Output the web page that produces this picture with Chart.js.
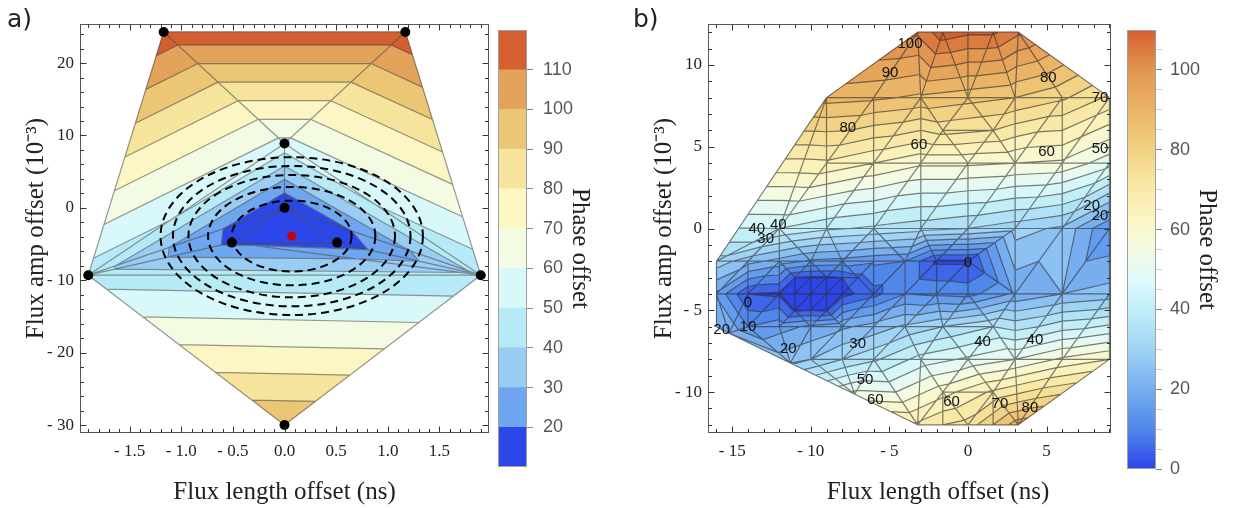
<!DOCTYPE html>
<html>
<head>
<meta charset="utf-8">
<script src="https://cdn.jsdelivr.net/npm/chart.js@4.4.1/dist/chart.umd.min.js"></script>
<style>
  body { margin: 0; background: #fff; width: 1233px; height: 508px; position: relative; overflow: hidden; }
  canvas { position: absolute; top: 0; }
  .tag { position: absolute; font: 25px 'DejaVu Sans'; line-height: 30px; color: #222; z-index: 2; }
</style>
</head>
<body>
<canvas id="chartA" width="495" height="508" style="left:0"></canvas>
<canvas id="barA" width="120" height="508" style="left:498px"></canvas>
<canvas id="chartB" width="495" height="508" style="left:620px"></canvas>
<canvas id="barB" width="106" height="508" style="left:1127px"></canvas>
<div class="tag" style="left:7px;top:4px">a)</div>
<div class="tag" style="left:633px;top:4px">b)</div>
<script>
// ---- panel a : measured points (x = length offset, y = amp offset, z = phase offset) ----
const aX = [-1.17, 1.17, 0, 0, -0.51, 0.51, -1.9, 1.9, 0];
const aY = [24.3, 24.3, 8.9, 0, -4.8, -4.8, -9.3, -9.3, -30];
const aZ = [117, 117, 57, 8.6, 18, 14, 45, 42, 99];
const aTris = [[0,1,2],[0,2,6],[1,2,7],[2,3,6],[2,3,7],[3,4,6],[3,5,7],[3,4,5],[4,5,7],[4,6,7],[6,7,8]];
const aBest = [0.07, -3.9];
const aEllRx = [0.58, 0.81, 1.0, 1.15, 1.27];
const aEllRy = [4.9, 6.8, 8.45, 9.7, 10.9];
const aLevels = [20, 30, 40, 50, 60, 70, 80, 90, 100, 110];
const aBandColors = ['#2b47e9','#6ea6ef','#9acdf4','#b7eaf7','#d8f8fa','#f3fbe3','#fcf6c4','#f6e49c','#ebc674','#e4a35a','#d65f31'];
const aBarEdges = [10, 20, 30, 40, 50, 60, 70, 80, 90, 100, 110, 120];
const aBarTicks = [20, 30, 40, 50, 60, 70, 80, 90, 100, 110];
const aXTicks = [-1.5, -1, -0.5, 0, 0.5, 1, 1.5];
const aYTicks = [-30, -20, -10, 0, 10, 20];

// ---- panel b : measured points ----
const bX = [
  -3.2, -1.6, 0, 1.6, 3.2,                 // y = 12
  -9, -6, -3, 0, 3, 6, 9,                  // y = 8
  -1.6, 1.6,                               // y = 6
  -9, -6, -3, 0, 3, 6, 9,                  // y = 4
  -12, -9, -6, -3, 0, 3, 6, 9,             // y = 0
  -16, -14, -12, -10, -8, -6, -4, -2, 0,   // y = -2
  -11, -10, -9, -8, -7,                    // y = -3
  -16, -14, -12, -11, -10, -9, -8, -6, -4, -2, 0, 3, 6, 9,  // y = -4
  -11, -10, -9,                            // y = -5
  -16, -14, -12, -10, -8, -6, -4, -1.6, 1.6, // y = -6
  -15.2, -11.3, -7.2,                      // lower left edge
  -10, -8, -6, -3, 0, 3, 6, 9,             // y = -8
  -1.6, 1.6,                               // y = -10
  -3.2, -1.6, 0, 1.6, 3.2                  // y = -12
];
const bY = [
  12, 12, 12, 12, 12,
  8, 8, 8, 8, 8, 8, 8,
  6, 6,
  4, 4, 4, 4, 4, 4, 4,
  0, 0, 0, 0, 0, 0, 0, 0,
  -2, -2, -2, -2, -2, -2, -2, -2, -2,
  -3, -3, -3, -3, -3,
  -4, -4, -4, -4, -4, -4, -4, -4, -4, -4, -4, -4, -4, -4,
  -5, -5, -5,
  -6, -6, -6, -6, -6, -6, -6, -6, -6,
  -6.4, -8.22, -10.13,
  -8, -8, -8, -8, -8, -8, -8, -8,
  -10, -10,
  -12, -12, -12, -12, -12
];
const bZ = [
  101, 108, 106, 106, 101,
  87, 86, 84, 82, 80, 76, 69,
  72, 70,
  64, 60, 56, 56, 55, 54, 47,
  40, 36, 34, 32, 30, 27, 24, 10,
  28, 22, 18, 14, 13, 11, 10, -1, -1,
  0, -1, -1, 0, 3,
  14, 0, -1, -2, -3, -2, -2, 3, 10, 9, 8, 16, 20, 22,
  -1, 0, -1,
  20, 10, 13, 16, 19, 22, 26, 30, 35,
  20, 24, 52,
  25, 30, 34, 42, 46, 50, 56, 60,
  58, 66,
  66, 70, 72, 80, 88
];
const bLevels = [0, 5, 10, 15, 20, 25, 30, 35, 40, 45, 50, 55, 60, 65, 70, 75, 80, 85, 90, 95, 100, 105];
const bStops = [0, 10, 20, 30, 40, 47, 55, 62, 72, 82, 90, 100, 110];
const bStopColors = ['#2b45e8','#5087eb','#76aef0','#9fd4f5','#c2eef8','#def9fa','#f3fbe3','#fcf6c6','#f8e6a2','#f0cd7c','#eab466','#e2964f','#d65f31'];
const bBarTicks = [0, 5, 10, 15, 20, 25, 30, 35, 40, 45, 50, 55, 60, 65, 70, 75, 80, 85, 90, 95, 100, 105];
const bXTicks = [-15, -10, -5, 0, 5];
const bYTicks = [-10, -5, 0, 5, 10];
// contour labels
const bLabX = [-3.69, -4.96, 5.11, 8.4, -7.65, -3.12, 5.0, 8.4, 7.87, 8.4, -13.44, -12.07, -12.87, 0, -14, -14, -15.67, -11.43, -7.02, 0.93, 4.26, -6.55, -5.9, -1.04, 2.03, 3.94];
const bLabY = [11.28, 9.5, 9.2, 7.96, 6.18, 5.12, 4.69, 4.85, 1.38, 0.77, 0, 0.22, -0.65, -2.08, -4.57, -6.02, -6.2, -7.34, -7.08, -6.94, -6.82, -9.27, -10.5, -10.6, -10.7, -10.96];
const bLabT = ['100','90','80','70','80','60','60','50','20','20','40','40','30','0','0','10','20','20','30','40','40','50','60','60','70','80'];

// ---- helpers ----
function hexRgb(h) { const n = parseInt(h.slice(1), 16); return [n >> 16 & 255, n >> 8 & 255, n & 255]; }
function cmapB(v) {
  v = Math.max(bStops[0], Math.min(bStops[bStops.length - 1], v));
  let i = 1;
  while (i < bStops.length - 1 && v > bStops[i]) i++;
  const t = (v - bStops[i - 1]) / (bStops[i] - bStops[i - 1]);
  const a = hexRgb(bStopColors[i - 1]), b = hexRgb(bStopColors[i]);
  return 'rgb(' + a.map((c, k) => Math.round(c + (b[k] - c) * t)).join(',') + ')';
}
const bBandColors = [cmapB(0)].concat(bLevels.map((L, i) => cmapB(i + 1 < bLevels.length ? bLevels[i + 1] : 110)));

// Bowyer-Watson triangulation
function delaunay(xs, ys) {
  const n = xs.length;
  const pts = xs.map((x, i) => [x + i * 1e-7, ys[i] + i * 1.3e-7]);
  const minX = Math.min(...xs), maxX = Math.max(...xs), minY = Math.min(...ys), maxY = Math.max(...ys);
  const d = Math.max(maxX - minX, maxY - minY) * 50, mx = (minX + maxX) / 2, my = (minY + maxY) / 2;
  pts.push([mx - d, my - d], [mx + d, my - d], [mx, my + d]);
  const circ = v => {
    const [ax, ay] = pts[v[0]], [bx, by] = pts[v[1]], [cx, cy] = pts[v[2]];
    const D = 2 * (ax * (by - cy) + bx * (cy - ay) + cx * (ay - by));
    const ux = ((ax * ax + ay * ay) * (by - cy) + (bx * bx + by * by) * (cy - ay) + (cx * cx + cy * cy) * (ay - by)) / D;
    const uy = ((ax * ax + ay * ay) * (cx - bx) + (bx * bx + by * by) * (ax - cx) + (cx * cx + cy * cy) * (bx - ax)) / D;
    return { v, ux, uy, r2: (ax - ux) ** 2 + (ay - uy) ** 2 };
  };
  let tris = [circ([n, n + 1, n + 2])];
  for (let i = 0; i < n; i++) {
    const [px, py] = pts[i];
    const keep = [], edges = new Map();
    for (const t of tris) {
      if ((px - t.ux) ** 2 + (py - t.uy) ** 2 < t.r2) {
        const v = t.v;
        for (const [a, b] of [[v[0], v[1]], [v[1], v[2]], [v[2], v[0]]]) {
          const k = a < b ? a + ',' + b : b + ',' + a;
          if (edges.has(k)) edges.delete(k); else edges.set(k, [a, b]);
        }
      } else keep.push(t);
    }
    tris = keep;
    for (const [a, b] of edges.values()) tris.push(circ([a, b, i]));
  }
  return tris.map(t => t.v).filter(v => v.every(k => k < n)).filter(v => {
    const [a, b, c] = v.map(k => pts[k]);
    return Math.abs((b[0] - a[0]) * (c[1] - a[1]) - (c[0] - a[0]) * (b[1] - a[1])) > 1e-6;
  });
}
const bTris = delaunay(bX, bY);

function clipPoly(poly, level, above) {
  const out = [];
  for (let i = 0; i < poly.length; i++) {
    const a = poly[i], b = poly[(i + 1) % poly.length];
    const ina = above ? a.v >= level : a.v <= level;
    const inb = above ? b.v >= level : b.v <= level;
    if (ina) out.push(a);
    if (ina !== inb) {
      const t = (level - a.v) / (b.v - a.v);
      out.push({ x: a.x + t * (b.x - a.x), y: a.y + t * (b.y - a.y), v: level });
    }
  }
  return out;
}

// filled contours on a triangulated mesh, drawn through the chart scales
const meshPlugin = {
  id: 'mesh',
  beforeDatasetsDraw(chart, args, o) {
    const { ctx, chartArea: ca, scales: { x, y } } = chart;
    const P = o.xs.map((v, i) => ({ x: x.getPixelForValue(v), y: y.getPixelForValue(o.ys[i]), v: o.zs[i] }));
    const lv = o.levels;
    ctx.save();
    ctx.beginPath(); ctx.rect(ca.left, ca.top, ca.width, ca.height); ctx.clip();
    ctx.lineJoin = 'round';
    for (const t of o.tris) {
      const tri = t.map(k => P[k]);
      for (let b = 0; b <= lv.length; b++) {
        let poly = tri;
        if (b > 0) poly = clipPoly(poly, lv[b - 1], true);
        if (b < lv.length && poly.length) poly = clipPoly(poly, lv[b], false);
        if (poly.length < 3) continue;
        ctx.beginPath();
        poly.forEach((p, i) => i ? ctx.lineTo(p.x, p.y) : ctx.moveTo(p.x, p.y));
        ctx.closePath();
        ctx.fillStyle = o.colors[b];
        ctx.fill();
        ctx.strokeStyle = o.colors[b]; ctx.lineWidth = 0.6; ctx.stroke();
      }
    }
    // contour lines + mesh edges
    ctx.beginPath();
    const seen = new Set();
    for (const t of o.tris) {
      for (const L of lv) {
        const pts = [];
        for (let e = 0; e < 3; e++) {
          const a = P[t[e]], c = P[t[(e + 1) % 3]];
          if ((a.v < L) !== (c.v < L)) {
            const s = (L - a.v) / (c.v - a.v);
            pts.push([a.x + s * (c.x - a.x), a.y + s * (c.y - a.y)]);
          }
        }
        if (pts.length === 2) { ctx.moveTo(pts[0][0], pts[0][1]); ctx.lineTo(pts[1][0], pts[1][1]); }
      }
      for (let e = 0; e < 3; e++) {
        const i = t[e], j = t[(e + 1) % 3], k = i < j ? i + '-' + j : j + '-' + i;
        if (seen.has(k)) continue;
        seen.add(k);
        ctx.moveTo(P[i].x, P[i].y); ctx.lineTo(P[j].x, P[j].y);
      }
    }
    ctx.strokeStyle = o.lineColor; ctx.lineWidth = o.lineWidth; ctx.stroke();
    // dashed ellipses
    if (o.ell) {
      const cx = x.getPixelForValue(o.ell.cx), cy = y.getPixelForValue(o.ell.cy);
      ctx.setLineDash([8, 5]); ctx.lineWidth = 2; ctx.strokeStyle = '#000';
      o.ell.rx.forEach((r, i) => {
        const rx = Math.abs(x.getPixelForValue(o.ell.cx + r) - cx);
        const ry = Math.abs(y.getPixelForValue(o.ell.cy + o.ell.ry[i]) - cy);
        ctx.beginPath(); ctx.ellipse(cx, cy, rx, ry, 0, 0, Math.PI * 2); ctx.stroke();
      });
      ctx.setLineDash([]);
    }
    ctx.restore();
  },
  afterDatasetsDraw(chart, args, o) {
    const { ctx, chartArea: ca, scales: { x, y } } = chart;
    ctx.save();
    if (o.labels) {
      ctx.font = '15px "Liberation Sans"'; ctx.fillStyle = '#111';
      ctx.textAlign = 'center'; ctx.textBaseline = 'middle';
      o.labels.x.forEach((v, i) => ctx.fillText(o.labels.t[i], x.getPixelForValue(v), y.getPixelForValue(o.labels.y[i])));
    }
    // frame with inward ticks on all sides
    const L = Math.round(ca.left) + 0.5, R = Math.round(ca.right) - 0.5, T = Math.round(ca.top) + 0.5, B = Math.round(ca.bottom) - 0.5;
    ctx.strokeStyle = '#555'; ctx.lineWidth = 1;
    ctx.strokeRect(L, T, R - L, B - T);
    ctx.strokeStyle = '#333';
    ctx.beginPath();
    const tk = o.ticks;
    const xTick = (v, len) => { const px = Math.round(x.getPixelForValue(v)) + 0.5; ctx.moveTo(px, B); ctx.lineTo(px, B - len); ctx.moveTo(px, T); ctx.lineTo(px, T + len); };
    const yTick = (v, len) => { const py = Math.round(y.getPixelForValue(v)) + 0.5; ctx.moveTo(L, py); ctx.lineTo(L + len, py); ctx.moveTo(R, py); ctx.lineTo(R - len, py); };
    for (let v = Math.ceil(x.min / tk.xMinor) * tk.xMinor; v <= x.max; v += tk.xMinor) {
      const major = Math.abs(v / tk.xMajor - Math.round(v / tk.xMajor)) < 1e-6;
      xTick(v, major ? 6 : 3.5);
    }
    for (let v = Math.ceil(y.min / tk.yMinor) * tk.yMinor; v <= y.max; v += tk.yMinor) {
      const major = Math.abs(v / tk.yMajor - Math.round(v / tk.yMajor)) < 1e-6;
      yTick(v, major ? 6 : 3.5);
    }
    ctx.stroke();
    if (o.xTitle) {
      ctx.font = '25px "Liberation Serif"'; ctx.fillStyle = '#222';
      ctx.textAlign = 'center'; ctx.textBaseline = 'middle';
      ctx.fillText(o.xTitle.text, o.xTitle.cx, o.xTitle.cy);
    }
    ctx.restore();
  }
};

const tickFont = { family: 'Liberation Serif', size: 17 };
const titleFont = { family: 'Liberation Serif', size: 25 };
const signed = (v, d) => (v < 0 ? '- ' : '') + Math.abs(v).toFixed(d);

function axis(min, max, ticks, digits, fit, horizontal, title, titlePad) {
  return {
    type: 'linear', min, max,
    afterBuildTicks: s => { s.ticks = ticks.map(v => ({ value: v })); },
    afterFit: s => { if (horizontal) s.height = fit; else s.width = fit; },
    grid: { display: false, drawTicks: false },
    border: { display: false },
    ticks: { font: tickFont, color: '#222', padding: horizontal ? 8 : 6, autoSkip: false, maxRotation: 0, callback: v => signed(v, digits) },
    title: { display: !!title, text: title, font: titleFont, color: '#222', padding: titlePad }
  };
}

new Chart(document.getElementById('chartA'), {
  type: 'scatter',
  data: {
    datasets: [
      { data: aX.map((x, i) => ({ x, y: aY[i] })), pointRadius: 5, backgroundColor: '#000', borderWidth: 0 },
      { data: [{ x: aBest[0], y: aBest[1] }], pointRadius: 4.5, backgroundColor: '#c8000a', borderWidth: 0 }
    ]
  },
  options: {
    responsive: false, animation: false, events: [],
    layout: { padding: { top: 24, right: 6, left: 0, bottom: 0 } },
    plugins: {
      legend: { display: false }, tooltip: { enabled: false },
      mesh: {
        xs: aX, ys: aY, zs: aZ, tris: aTris, levels: aLevels, colors: aBandColors,
        lineColor: 'rgba(70,70,70,0.55)', lineWidth: 1.2,
        ell: { cx: aBest[0], cy: aBest[1], rx: aEllRx, ry: aEllRy },
        ticks: { xMajor: 0.5, xMinor: 0.1, yMajor: 10, yMinor: 2 }
      }
    },
    scales: {
      x: axis(-1.98, 1.98, aXTicks, 1, 75, true, 'Flux length offset (ns)', { bottom: 1 }),
      y: axis(-31.1, 25.4, aYTicks, 0, 80, false, 'Flux amp offset (10⁻³)', { top: 21 })
    }
  },
  plugins: [meshPlugin]
});

new Chart(document.getElementById('chartB'), {
  type: 'scatter',
  data: { datasets: [{ data: bX.map((x, i) => ({ x, y: bY[i] })), pointRadius: 0 }] },
  options: {
    responsive: false, animation: false, events: [],
    layout: { padding: { top: 24, right: 4, left: 0, bottom: 0 } },
    plugins: {
      legend: { display: false }, tooltip: { enabled: false },
      mesh: {
        xs: bX, ys: bY, zs: bZ, tris: bTris, levels: bLevels, colors: bBandColors,
        lineColor: 'rgba(40,40,40,0.6)', lineWidth: 1.2,
        labels: { x: bLabX, y: bLabY, t: bLabT },
        ticks: { xMajor: 5, xMinor: 1, yMajor: 5, yMinor: 1 },
        xTitle: { text: 'Flux length offset (ns)', cx: 318, cy: 492 }
      }
    },
    scales: {
      x: axis(-16.54, 9.1, bXTicks, 0, 75, true, '', {}),
      y: axis(-12.5, 12.5, bYTicks, 0, 88, false, 'Flux amp offset (10⁻³)', { top: 29 })
    }
  },
  plugins: [meshPlugin]
});

const barFrame = {
  id: 'barFrame',
  afterDatasetsDraw(chart) {
    const { ctx, chartArea: ca } = chart;
    ctx.save(); ctx.strokeStyle = '#a0a0a0'; ctx.lineWidth = 1;
    ctx.strokeRect(Math.round(ca.left) + 0.5, Math.round(ca.top) + 0.5, Math.round(ca.width) - 1, Math.round(ca.height) - 1);
    ctx.restore();
  }
};

function barScale(min, max, ticks, width, pad, titlePad, major) {
  return {
    x: { display: false },
    y: {
      position: 'right', min, max,
      afterBuildTicks: s => { s.ticks = ticks.map(v => ({ value: v })); },
      afterFit: s => { s.width = width; },
      grid: { drawOnChartArea: false, tickLength: 6, tickColor: c => (c.tick && c.tick.value % major === 0) ? '#888' : '#d0d0d0' },
      border: { display: false },
      ticks: { padding: pad, color: '#555', autoSkip: false, font: { family: 'Liberation Sans', size: 18 }, callback: v => v % major === 0 ? String(v) : '' },
      title: { display: true, text: 'Phase offset', font: titleFont, color: '#222', padding: { top: titlePad } }
    }
  };
}

new Chart(document.getElementById('barA'), {
  type: 'bar',
  data: {
    labels: [''],
    datasets: aBandColors.map((c, i) => ({ data: [[aBarEdges[i], aBarEdges[i + 1]]], backgroundColor: c, borderWidth: 0, grouped: false, barPercentage: 1, categoryPercentage: 1 }))
  },
  options: {
    responsive: false, animation: false, events: [],
    layout: { padding: { top: 30, bottom: 41, left: 0, right: 0 } },
    plugins: { legend: { display: false }, tooltip: { enabled: false } },
    scales: barScale(10, 120, aBarTicks, 91, 10, 23, 10)
  },
  plugins: [barFrame]
});

new Chart(document.getElementById('barB'), {
  type: 'bar',
  data: {
    labels: [''],
    datasets: [{
      data: [[0, 110]], borderWidth: 0, barPercentage: 1, categoryPercentage: 1,
      backgroundColor: c => {
        const ch = c.chart;
        if (!ch.chartArea) return bStopColors[0];
        const ys = ch.scales.y;
        const g = ch.ctx.createLinearGradient(0, ys.getPixelForValue(0), 0, ys.getPixelForValue(110));
        bStops.forEach((s, i) => g.addColorStop(s / 110, bStopColors[i]));
        return g;
      }
    }]
  },
  options: {
    responsive: false, animation: false, events: [],
    layout: { padding: { top: 30, bottom: 39, left: 0, right: 0 } },
    plugins: { legend: { display: false }, tooltip: { enabled: false } },
    scales: barScale(0, 110, bBarTicks, 77, 8, 11, 20)
  },
  plugins: [barFrame]
});
</script>
</body>
</html>
